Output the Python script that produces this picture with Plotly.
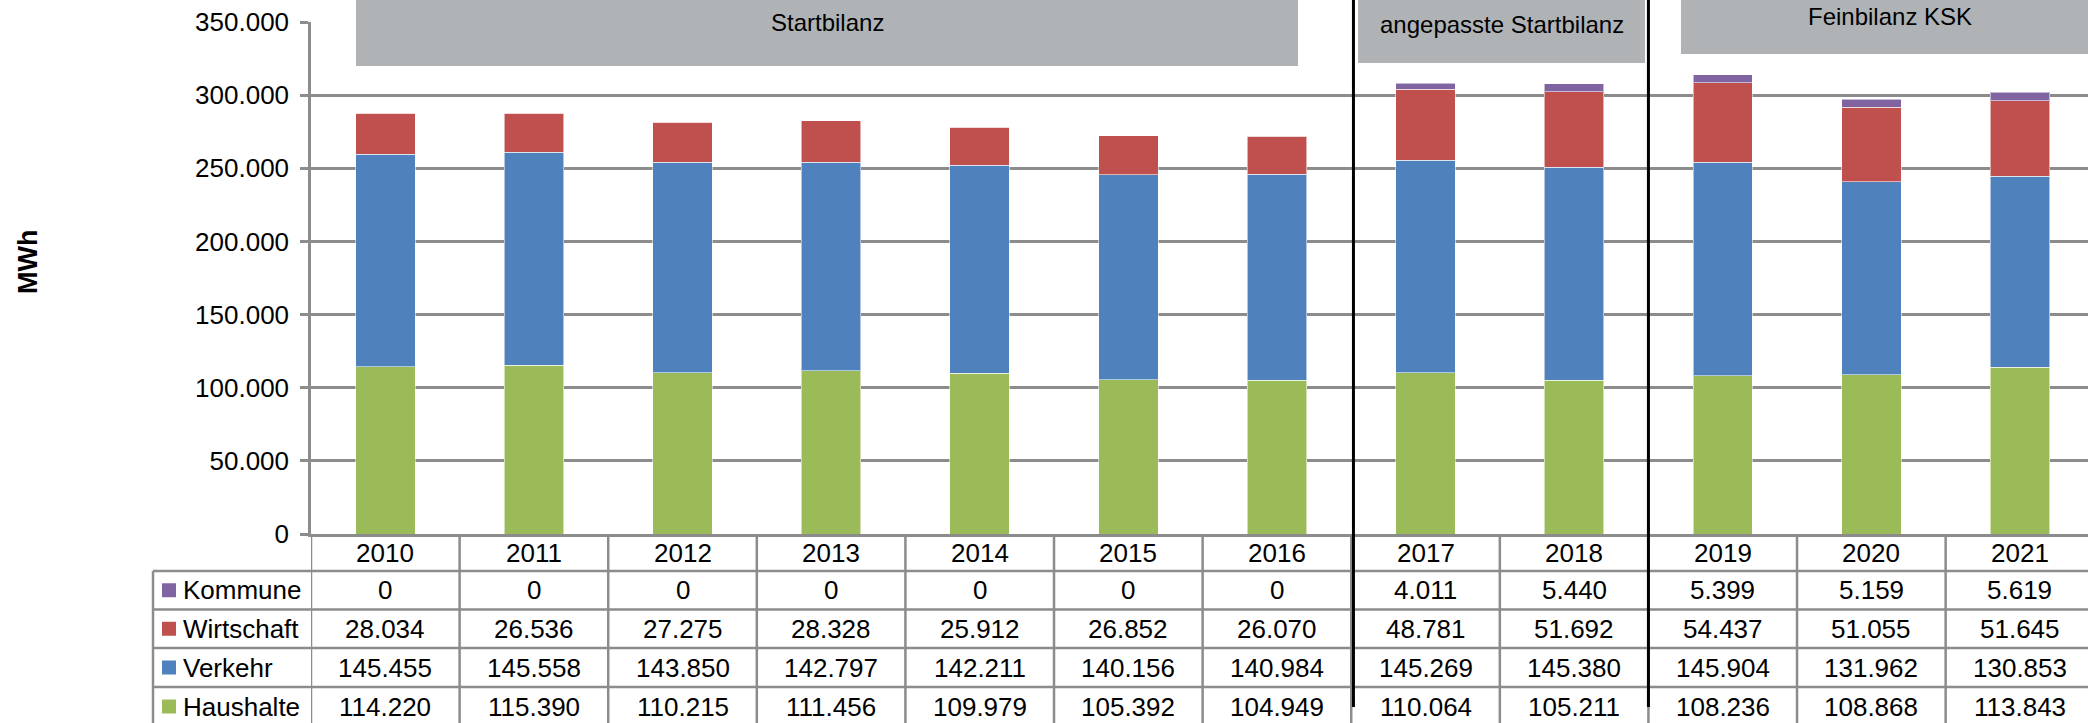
import plotly.graph_objects as go

# Daten (MWh)
jahre = ["2010", "2011", "2012", "2013", "2014", "2015",
         "2016", "2017", "2018", "2019", "2020", "2021"]
haushalte = [114220, 115390, 110215, 111456, 109979, 105392,
             104949, 110064, 105211, 108236, 108868, 113843]
verkehr = [145455, 145558, 143850, 142797, 142211, 140156,
           140984, 145269, 145380, 145904, 131962, 130853]
wirtschaft = [28034, 26536, 27275, 28328, 25912, 26852,
              26070, 48781, 51692, 54437, 51055, 51645]
kommune = [0, 0, 0, 0, 0, 0, 0, 4011, 5440, 5399, 5159, 5619]

FONT = "Arial, Liberation Sans, sans-serif"
GRAU = "#8C8C8C"
BOX = "#B0B3B6"

# Seitengeometrie (Pixel)
W, H = 2088, 723
L, T, B = 311, 22, 534          # Plotfläche links / oben / unten (y=0)
PW, PH = W - L, B - T


def py(p):
    """Pixel-y -> paper-y"""
    return (B - p) / PH


def px(p):
    """Pixel-x -> paper-x"""
    return (p - L) / PW


def de(v):
    return f"{v:,}".replace(",", ".")


fig = go.Figure()
serien = [
    ("Haushalte", haushalte, "#9BBB59"),
    ("Verkehr", verkehr, "#4F81BD"),
    ("Wirtschaft", wirtschaft, "#C0504D"),
    ("Kommune", kommune, "#8064A2"),
]
for name, werte, farbe in serien:
    fig.add_trace(go.Bar(
        x=jahre, y=werte, name=name, width=0.4,
        marker=dict(color=farbe, line=dict(color="rgba(255,255,255,0.55)", width=1)),
    ))

shapes = []
annots = []

# Phasen-Kästen oben
phasen = [
    ("Startbilanz", -0.197, 6.142, 66, 22.6),
    ("angepasste Startbilanz", 6.546, 8.477, 63, 24),
    ("Feinbilanz KSK", 8.719, 11.6, 54, 16),
]
for text, x0, x1, unten, ty in phasen:
    shapes.append(dict(type="rect", xref="x", yref="paper", x0=x0, x1=x1,
                       y0=py(unten), y1=py(-2), fillcolor=BOX, line_width=0,
                       layer="above"))
    annots.append(dict(text=text, xref="x", yref="paper", x=(x0 + min(x1, 11.53)) / 2,
                       y=py(ty), showarrow=False, yanchor="middle",
                       font=dict(family=FONT, size=24, color="black")))

# Tabelle unter dem Diagramm
zeilen = [
    ("Kommune", kommune, "#8064A2"),
    ("Wirtschaft", wirtschaft, "#C0504D"),
    ("Verkehr", verkehr, "#4F81BD"),
    ("Haushalte", haushalte, "#9BBB59"),
]
grenzen = [571, 609.5, 648, 687, 726]
links = 153

# horizontale Linien
for y in grenzen:
    shapes.append(dict(type="line", xref="paper", yref="paper", x0=px(links), x1=1,
                       y0=py(y), y1=py(y), line=dict(color=GRAU, width=2.5)))
# vertikale Linien
shapes.append(dict(type="line", xref="paper", yref="paper", x0=px(links), x1=px(links),
                   y0=py(571), y1=py(730), line=dict(color=GRAU, width=2.5)))
for k in range(-1, 12):
    shapes.append(dict(type="line", xref="x", yref="paper", x0=k + 0.5, x1=k + 0.5,
                       y0=py(B), y1=py(730), line=dict(color=GRAU, width=2.5)))

# Jahreszeile
for i, j in enumerate(jahre):
    annots.append(dict(text=j, xref="x", yref="paper", x=i, y=py(553),
                       showarrow=False, yanchor="middle",
                       font=dict(family=FONT, size=26, color="black")))

for r, (name, werte, farbe) in enumerate(zeilen):
    mitte = (grenzen[r] + grenzen[r + 1]) / 2
    shapes.append(dict(type="rect", xref="paper", yref="paper",
                       x0=px(162), x1=px(176), y0=py(mitte + 7), y1=py(mitte - 7),
                       fillcolor=farbe, line_width=0))
    annots.append(dict(text=name, xref="paper", yref="paper", x=px(181), y=py(mitte),
                       xanchor="left", yanchor="middle", showarrow=False,
                       font=dict(family=FONT, size=26, color="black")))
    for i, v in enumerate(werte):
        annots.append(dict(text=de(v), xref="x", yref="paper", x=i, y=py(mitte),
                           showarrow=False, yanchor="middle",
                           font=dict(family=FONT, size=26, color="black")))

# schwarze Trennlinien der Phasen
for xs in (6.515, 8.5):
    shapes.append(dict(type="line", xref="x", yref="paper", x0=xs, x1=xs,
                       y0=py(707), y1=py(-2), line=dict(color="black", width=3),
                       layer="above"))

# Achsentitel
annots.append(dict(text="<b>MWh</b>", xref="paper", yref="paper", x=px(28), y=py(262),
                   textangle=-90, showarrow=False, xanchor="center", yanchor="middle",
                   font=dict(family=FONT, size=27, color="black")))

fig.update_layout(
    width=W, height=H,
    margin=dict(l=L, r=0, t=T, b=H - B, autoexpand=False),
    paper_bgcolor="white", plot_bgcolor="white",
    barmode="stack", bargap=0.6,
    showlegend=False,
    separators=",.",
    font=dict(family=FONT, size=26, color="black"),
    xaxis=dict(type="category", categoryorder="array", categoryarray=jahre,
               range=[-0.5, 11.458], showticklabels=False, ticks="",
               showline=True, linecolor=GRAU, linewidth=2.5, showgrid=False,
               zeroline=False),
    yaxis=dict(range=[0, 350000], dtick=50000, tickformat=",d",
               showline=True, linecolor=GRAU, linewidth=2.5,
               ticks="outside", ticklen=8, tickcolor=GRAU, tickwidth=2.5,
               ticklabelstandoff=6,
               showgrid=True, gridcolor=GRAU, gridwidth=2.5, zeroline=False,
               tickfont=dict(family=FONT, size=26, color="black")),
    shapes=shapes,
    annotations=annots,
)

fig.write_html("out.html", config={"displayModeBar": False},
               post_script="document.body.style.margin='0';document.body.style.overflow='hidden';")
